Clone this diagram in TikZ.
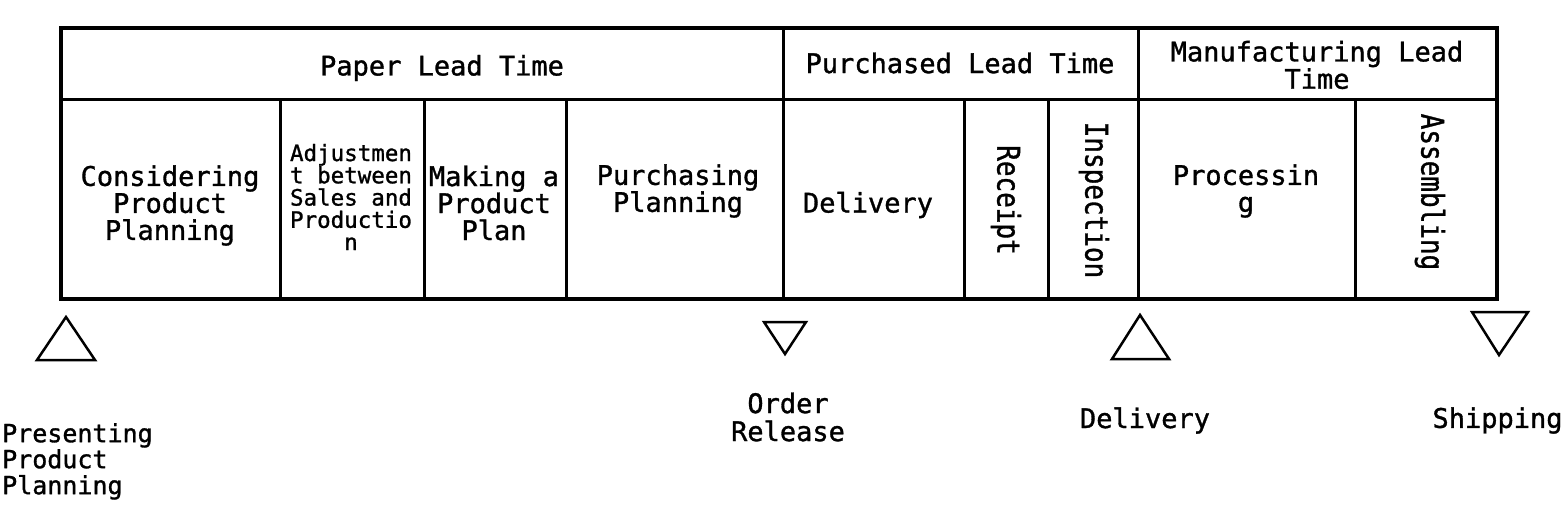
\documentclass[tikz,border=0pt]{standalone}
\usepackage{fontspec}
\newfontfamily\gothic[FakeBold=1.2]{DejaVu Sans Mono}
\begin{document}
\begin{tikzpicture}[x=1pt,y=-1pt,
  lbl/.style={font=\gothic\fontsize{27}{27}\selectfont, align=center, inner sep=0pt},
  smalllbl/.style={font=\gothic\fontsize{22.5}{22.25}\selectfont, align=center, inner sep=0pt},
  botlbl/.style={font=\gothic\fontsize{25}{26}\selectfont, align=left, inner sep=0pt},
  vlbl/.style={font=\gothic\fontsize{26}{26}\selectfont, inner sep=0pt, rotate=-90},
  tri/.style={draw, line width=2.5pt, line join=miter},
  grid/.style={line width=3pt},
  frame/.style={line width=4pt}]
\useasboundingbox (0,0) rectangle (1566,523);
% table lines
\draw[grid] (61,99) -- (1497,99);
\draw[grid] (783,28) -- (783,299);
\draw[grid] (1138,28) -- (1138,299);
\foreach \xx in {280,424,566,964,1048,1355} \draw[grid] (\xx,99) -- (\xx,299);
\draw[frame] (61,28) rectangle (1497,299);
% headers
\node[lbl] (hp) at (442,68) {Paper Lead Time};
\node[lbl] (hq) at (960,63) {Purchased Lead Time};
\node[lbl, font=\gothic\fontsize{27}{26}\selectfont] (hm) at (1317,65) {Manufacturing Lead\\Time};
% cells
\node[lbl] (c1) at (170,205.5) {Considering\\Product\\Planning};
\node[smalllbl] (c2) at (351,197) {Adjustmen\\t between\\Sales and\\Productio\\n};
\node[lbl] (c3) at (494,203) {Making a\\Product\\Plan};
\node[lbl] (c4) at (678,191) {Purchasing\\Planning};
\node[lbl] (c5) at (868,205) {Delivery};
\node[vlbl] (c6) at (1006,200) {\scalebox{1}[1.2]{Receipt}};
\node[vlbl] (c7) at (1094,200) {\scalebox{1}[1.2]{Inspection}};
\node[lbl] (c8) at (1246,191) {Processin\\g};
\node[vlbl] (c9) at (1430,192) {\scalebox{1}[1.2]{Assembling}};
% milestones
\draw[tri] (37,360) -- (66,317) -- (95,360) -- cycle;
\draw[tri] (764,322) -- (806,322) -- (785,354) -- cycle;
\draw[tri] (1112,359) -- (1140,315) -- (1169,359) -- cycle;
\draw[tri] (1472,312) -- (1528,312) -- (1499,355) -- cycle;
\node[botlbl, anchor=north west] (m1) at (2,423) {Presenting\\Product\\Planning};
\node[lbl, font=\gothic\fontsize{27}{28}\selectfont] (m2) at (788,417) {Order\\Release};
\node[lbl] (m3) at (1145,420.5) {Delivery};
\node[lbl] (m4) at (1497.5,420.5) {Shipping};
\end{tikzpicture}
\end{document}
